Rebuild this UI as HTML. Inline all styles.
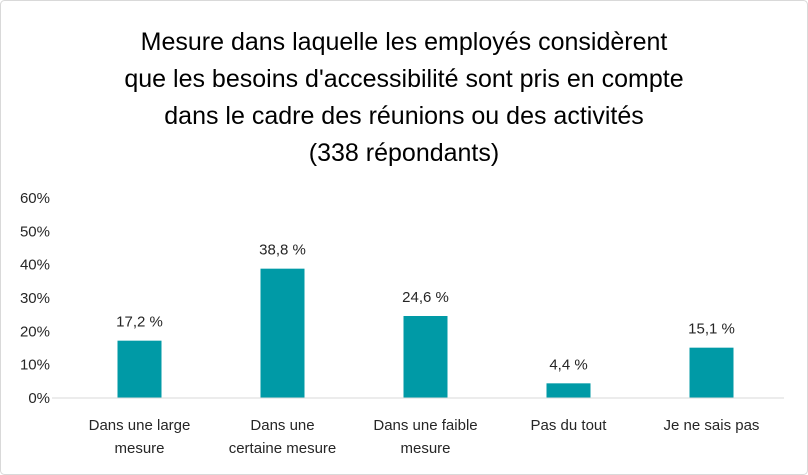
<!DOCTYPE html>
<html><head><meta charset="utf-8"><style>
html,body{margin:0;padding:0;background:#fff;}
svg{display:block;font-family:"Liberation Sans",sans-serif;}
</style></head><body>
<svg id="chart" width="808" height="475">
<rect x="0.5" y="0.5" width="807" height="474" rx="4" fill="#fff" stroke="#d9d9d9"/>
<g font-size="25" fill="#000" text-anchor="middle">
<text x="404" y="50">Mesure dans laquelle les employés considèrent</text>
<text x="404" y="87">que les besoins d'accessibilité sont pris en compte</text>
<text x="404" y="124">dans le cadre des réunions ou des activités</text>
<text x="404" y="161">(338 répondants)</text>
</g>
<g id="yaxis"></g>
<g id="bars"></g>
<g id="xaxis"></g>
</svg>
<script>
const categories=[["Dans une large","mesure"],["Dans une","certaine mesure"],["Dans une faible","mesure"],["Pas du tout"],["Je ne sais pas"]];
const values=[17.2,38.8,24.6,4.4,15.1];
const valueLabels=["17,2 %","38,8 %","24,6 %","4,4 %","15,1 %"];
const yTicks=[0,10,20,30,40,50,60];
const yTickLabels=["0%","10%","20%","30%","40%","50%","60%"];
const NS="http://www.w3.org/2000/svg";
const y0=398,yTop=198,x0=68,step=143;
function y(v){return y0-(v/60)*(y0-yTop);}
function xc(i){return x0+step*(i+0.5);}
function mk(t,a,p,txt){const e=document.createElementNS(NS,t);for(const k in a)e.setAttribute(k,a[k]);if(txt!==undefined)e.textContent=txt;p.appendChild(e);return e;}
const ya=document.getElementById('yaxis'),bg=document.getElementById('bars'),xa=document.getElementById('xaxis');
yTicks.forEach((t,i)=>{const e=mk('text',{x:50,y:y(t)+5,'text-anchor':'end','font-size':15,fill:'#262626'},ya,yTickLabels[i]);

});
const base=mk('line',{x1:52,x2:784,y1:y0,y2:y0,stroke:'#d9d9d9','stroke-width':1},xa);


values.forEach((v,i)=>{const r=mk('rect',{x:xc(i)-22,y:y(v),width:44,height:y0-y(v),fill:'#009aa6'},bg);


const l=mk('text',{x:xc(i),y:y(v)-14,'text-anchor':'middle','font-size':15,fill:'#262626'},bg,valueLabels[i]);


categories[i].forEach((ln,j)=>{const c=mk('text',{x:xc(i),y:430+j*23,'text-anchor':'middle','font-size':15,fill:'#262626'},xa,ln);

});});
</script>
</body></html>
